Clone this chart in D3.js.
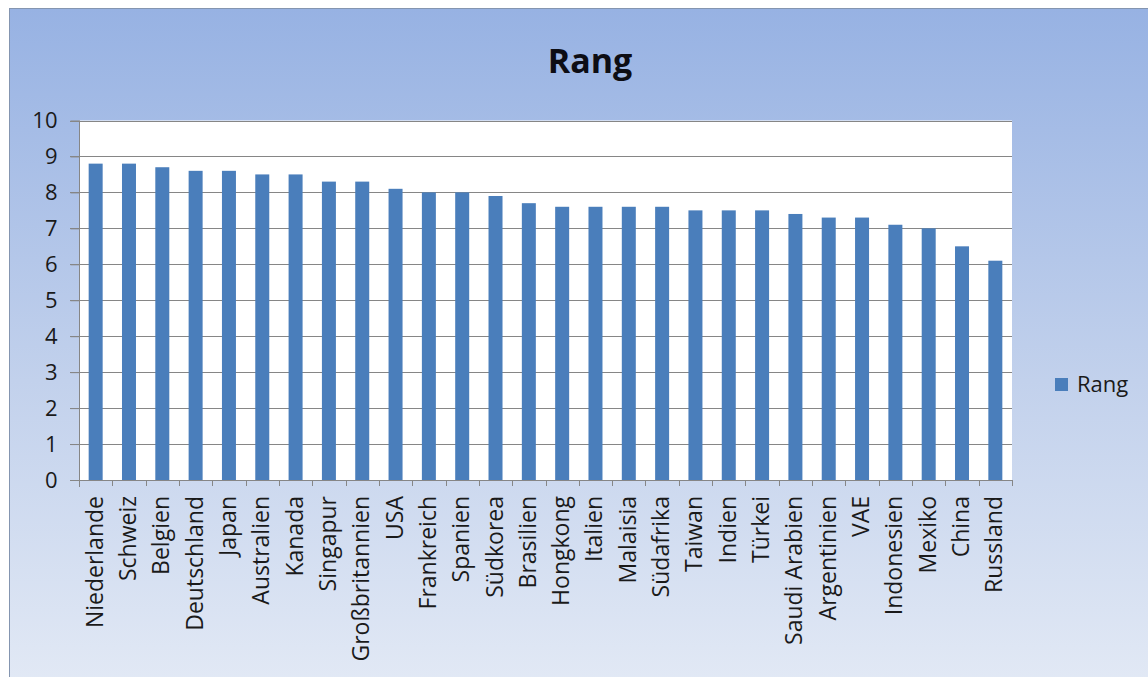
<!DOCTYPE html>
<html>
<head>
<meta charset="utf-8">
<script src="https://cdn.jsdelivr.net/npm/d3@7"></script>
<style>
  html, body { margin: 0; padding: 0; background: #fff; }
  svg text { font-family: "Open Sans", Lato, sans-serif; }
</style>
</head>
<body>
<div id="chart"></div>
<script>
const categories = ["Niederlande", "Schweiz", "Belgien", "Deutschland", "Japan", "Australien", "Kanada",
  "Singapur", "Großbritannien", "USA", "Frankreich", "Spanien", "Südkorea", "Brasilien", "Hongkong",
  "Italien", "Malaisia", "Südafrika", "Taiwan", "Indien", "Türkei", "Saudi Arabien", "Argentinien",
  "VAE", "Indonesien", "Mexiko", "China", "Russland"];
const rang = [8.8, 8.8, 8.7, 8.6, 8.6, 8.5, 8.5, 8.3, 8.3, 8.1, 8.0, 8.0, 7.9, 7.7, 7.6,
  7.6, 7.6, 7.6, 7.5, 7.5, 7.5, 7.4, 7.3, 7.3, 7.1, 7.0, 6.5, 6.1];
const yTicks = [0, 1, 2, 3, 4, 5, 6, 7, 8, 9, 10];
const seriesName = "Rang";

const width = 1148, height = 677;
const plot = { left: 79, top: 120.5, right: 1012, bottom: 480 };
const gridColor = "#868686";
const barColor = "#4a7ebb";
const textColor = "#1a1a1a";

const svg = d3.select("#chart")
  .append("svg")
  .attr("width", width)
  .attr("height", height);

const defs = svg.append("defs");
const grad = defs.append("linearGradient")
  .attr("id", "bg")
  .attr("x1", 0).attr("y1", 0).attr("x2", 0).attr("y2", 1);
grad.append("stop").attr("offset", "0%").attr("stop-color", "#97b2e3");
grad.append("stop").attr("offset", "55%").attr("stop-color", "#c2d1ec");
grad.append("stop").attr("offset", "100%").attr("stop-color", "#e2e9f5");

// chart frame
svg.append("rect")
  .attr("x", 9.5).attr("y", 8.5)
  .attr("width", width).attr("height", height)
  .attr("fill", "url(#bg)")
  .attr("stroke", "#8495b0");

// plot area
svg.append("rect")
  .attr("x", plot.left).attr("y", plot.top)
  .attr("width", plot.right - plot.left).attr("height", plot.bottom - plot.top)
  .attr("fill", "#fff");

const x = d3.scaleBand()
  .domain(categories)
  .range([plot.left, plot.right])
  .paddingInner(0.58)
  .paddingOuter(0.29);

const y = d3.scaleLinear()
  .domain([0, 10])
  .range([plot.bottom, plot.top]);

// gridlines
svg.append("g")
  .selectAll("line")
  .data(yTicks)
  .join("line")
  .attr("x1", plot.left - 9).attr("x2", plot.right)
  .attr("y1", d => Math.round(y(d)) + 0.5).attr("y2", d => Math.round(y(d)) + 0.5)
  .attr("stroke", gridColor)
  .attr("stroke-width", 1);

// bars
svg.append("g")
  .selectAll("rect")
  .data(categories)
  .join("rect")
  .attr("x", d => x(d))
  .attr("y", (d, i) => y(rang[i]))
  .attr("width", x.bandwidth())
  .attr("height", (d, i) => y(0) - y(rang[i]))
  .attr("fill", barColor);

// y axis
const yAxis = svg.append("g")
  .attr("transform", `translate(${plot.left + 0.5},0)`)
  .call(d3.axisLeft(y).tickValues(yTicks).tickSize(9).tickPadding(13));
yAxis.select(".domain").attr("stroke", gridColor).attr("d", `M0,${plot.top}V${plot.bottom + 7}`);
yAxis.selectAll(".tick line").attr("stroke", gridColor);
yAxis.selectAll("text")
  .attr("fill", textColor)
  .style("font-size", "22px");

// x axis with ticks at band boundaries
const boundaries = d3.range(categories.length + 1).map(i => plot.left + i * (plot.right - plot.left) / categories.length);
const xg = svg.append("g");
xg.append("line")
  .attr("x1", plot.left).attr("x2", plot.right)
  .attr("y1", Math.round(y(0)) + 0.5).attr("y2", Math.round(y(0)) + 0.5)
  .attr("stroke", gridColor);
xg.selectAll("line.tk")
  .data(boundaries)
  .join("line")
  .attr("class", "tk")
  .attr("x1", d => Math.round(d) + 0.5).attr("x2", d => Math.round(d) + 0.5)
  .attr("y1", plot.bottom).attr("y2", plot.bottom + 6)
  .attr("stroke", gridColor);

xg.selectAll("text")
  .data(categories)
  .join("text")
  .attr("transform", d => `translate(${x(d) + x.bandwidth() / 2 + 7},${plot.bottom + 16}) rotate(-90)`)
  .attr("text-anchor", "end")
  .attr("fill", textColor)
  .style("font-size", "23px")
  .text(d => d);

// title
svg.append("text")
  .attr("x", 590).attr("y", 73)
  .attr("text-anchor", "middle")
  .attr("fill", "#0d0d14")
  .style("font-size", "34px")
  .style("font-weight", "bold")
  .text(seriesName);

// legend
const legend = svg.append("g").attr("transform", "translate(1055,378)");
legend.append("rect")
  .attr("width", 13).attr("height", 13)
  .attr("fill", barColor);
legend.append("text")
  .attr("x", 22).attr("y", 14)
  .attr("fill", textColor)
  .style("font-size", "22px")
  .text(seriesName);
</script>
</body>
</html>
